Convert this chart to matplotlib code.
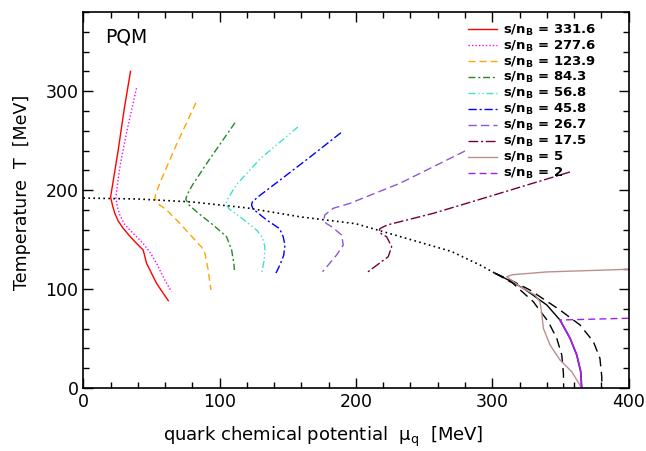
import matplotlib
matplotlib.use("Agg")
import matplotlib.pyplot as plt
from matplotlib.ticker import MultipleLocator

plt.rcParams['font.family'] = ['DejaVu Sans']
plt.rcParams['mathtext.fontset'] = 'dejavusans'

# Isentropes s/n_B (quark chemical potential mu_q, temperature T), both in MeV
s331_mu = [34.6, 30, 25.6, 22, 20, 21.5, 23.1, 25.5, 29.2, 35, 40.2, 43.9, 46.4, 53.7, 58, 62.3]
s331_T = [320, 282, 240.5, 210, 193, 184, 176.5, 169, 161.4, 152, 144.5, 139.5, 126, 105.8, 97, 88.3]

s277_mu = [39, 32, 27, 24.5, 23.9, 25, 26.8, 30, 34.1, 43.9, 49, 53.7, 59.8, 64.7]
s277_T = [303, 260, 225, 200, 191.7, 183, 174.8, 166, 159.7, 146, 137, 126, 109, 97.3]

s123_mu = [82.6, 68, 57, 53, 52.5, 55, 61, 70.8, 83, 87, 89.2, 91.6, 93.6]
s123_T = [288.3, 245, 210, 196, 191.7, 186, 180, 166.4, 147.9, 142, 136.1, 119.2, 99]

s84_mu = [111.2, 92, 80, 76, 75.2, 77.5, 83, 95.3, 105.1, 108.8, 110.5, 110.8]
s84_T = [268, 230, 205, 195, 190.7, 185, 178.2, 164.7, 152.9, 139.5, 125, 119.3]

s56_mu = [157.4, 130, 112, 106, 104.6, 107, 114.9, 127.1, 131.5, 133.2, 132.7, 130.8]
s56_T = [263.8, 232, 205, 191, 186, 181, 173.1, 159.7, 152, 142.8, 129.4, 115.9]

s45_mu = [189, 165, 144.2, 128, 124, 123.4, 124.5, 127.1, 134.5, 144, 146.6, 147.9, 147, 144.2, 140.6]
s45_T = [258, 232, 210, 193, 188, 185, 181, 178, 169.8, 161, 153, 144.5, 134, 124.3, 114]

s26_mu = [280, 232.3, 195.6, 183.3, 177.2, 176.5, 178, 182.2, 189.5, 190.7, 185.8, 175.5]
s26_T = [239.5, 206.9, 186.6, 181.6, 175, 170, 166.5, 163, 154.6, 144.5, 134.4, 117.5]

s17_mu = [357, 291, 256.7, 225, 221.3, 217.5, 217.1, 219, 222.5, 226.2, 223.7, 207.3]
s17_T = [218.3, 190.7, 176.5, 165.5, 163.7, 161, 158, 155.5, 152.9, 142.8, 132.7, 115.9]

s5_mu = [400, 340, 315, 310.6, 320.4, 331.4, 335, 336.3, 337.5, 342.4, 349.7, 358.3, 365.6]
s5_T = [120, 117.3, 114.5, 112.5, 102.4, 94, 87.2, 75.5, 60.3, 43.5, 28.3, 16.5, 0]

s2_mu = [400, 349.7]
s2_T = [70.5, 68.7]
s2_mixed_mu = [349.7, 357.1, 362, 364.9, 365.6]
s2_mixed_T = [68.7, 50.2, 33.4, 16.5, 0]

# Chiral crossover, first-order line and spinodals
cross_mu = [0, 40, 80, 120, 159, 200, 240, 270, 291, 302]
cross_T = [192, 191, 188, 182, 173, 166, 150, 138, 124.3, 116]

first_mu = [302, 312, 322.8, 340, 349.7, 357.1, 362, 364.9, 365.6]
first_T = [116, 109, 100.8, 83.9, 68.7, 50.2, 33.4, 16.5, 0]

spinL_mu = [302, 315, 330.1, 341.1, 347.3, 351, 352.2, 352.4]
spinL_T = [116, 106, 87.2, 67, 50.2, 33.4, 15, 0]

spinR_mu = [302, 315, 327.7, 349.7, 364.4, 374.2, 379, 380.3, 380.5]
spinR_T = [116, 108, 99, 78.8, 63.7, 46.8, 30, 12, 0]

ratios = ["331.6", "277.6", "123.9", "84.3", "56.8", "45.8", "26.7", "17.5", "5", "2"]

fig = plt.figure(figsize=(6.46, 4.51), dpi=100)
ax = fig.add_axes([0.129, 0.1397, 0.844, 0.8337])

lw = 1.0
ax.plot(cross_mu, cross_T, color='black', lw=1.2, ls=(0, (1, 2)))
ax.plot(first_mu, first_T, color='black', lw=lw)
ax.plot(spinL_mu, spinL_T, color='black', lw=lw, ls=(0, (7, 4)))
ax.plot(spinR_mu, spinR_T, color='black', lw=lw, ls=(0, (7, 4)))

series = [
    (s331_mu, s331_T, '#ff0000', '-'),
    (s277_mu, s277_T, '#ff00ff', (0, (1, 1.5))),
    (s123_mu, s123_T, '#ffa500', (0, (5, 3))),
    (s84_mu, s84_T, '#228b22', (0, (5, 2, 1.5, 2))),
    (s56_mu, s56_T, '#40e0d0', (0, (5, 2, 1, 2, 1, 2))),
    (s45_mu, s45_T, '#0000ff', (0, (6, 2, 1.5, 2))),
    (s26_mu, s26_T, '#9055d8', (0, (6, 3))),
    (s17_mu, s17_T, '#700040', (0, (7, 2, 1.5, 2))),
    (s5_mu, s5_T, '#bc8f8f', '-'),
    (s2_mu, s2_T, '#a020f0', (0, (5, 3))),
]
for (mu, T, c, ls), r in zip(series, ratios):
    ax.plot(mu, T, color=c, ls=ls, lw=lw, label=r"s/n$_\mathbf{B}$ = " + r)
ax.plot(s2_mixed_mu, s2_mixed_T, color='#a020f0', lw=1.3)

ax.set_xlim(0, 400)
ax.set_ylim(0, 380)
ax.xaxis.set_major_locator(MultipleLocator(100))
ax.xaxis.set_minor_locator(MultipleLocator(20))
ax.yaxis.set_major_locator(MultipleLocator(100))
ax.yaxis.set_minor_locator(MultipleLocator(20))
ax.tick_params(which='both', direction='in', top=True, right=True, labelsize=12.5, width=1)
ax.tick_params(which='major', length=7)
ax.tick_params(which='minor', length=4)
for sp in ax.spines.values():
    sp.set_linewidth(1.2)

xl = ax.set_xlabel("quark chemical potential  μ$_\\mathrm{q}$  [MeV]", fontsize=13)
xl.set_va('center')
ax.xaxis.set_label_coords((323 - 83.5) / 545, -0.13)
yl = ax.set_ylabel("Temperature  T  [MeV]", fontsize=12.5)
yl.set_va('center')
ax.yaxis.set_label_coords(-0.113, 0.52)
ax.text(16, 355, "PQM", fontsize=13.5, va='center')

ax.legend(loc='upper left', bbox_to_anchor=(0.705, 0.972), frameon=False,
          prop={'size': 9.5, 'weight': 'bold'}, handlelength=2.2, handletextpad=0.45,
          labelspacing=0.065, borderpad=0, borderaxespad=0)

fig.savefig("out.png", dpi=100)
